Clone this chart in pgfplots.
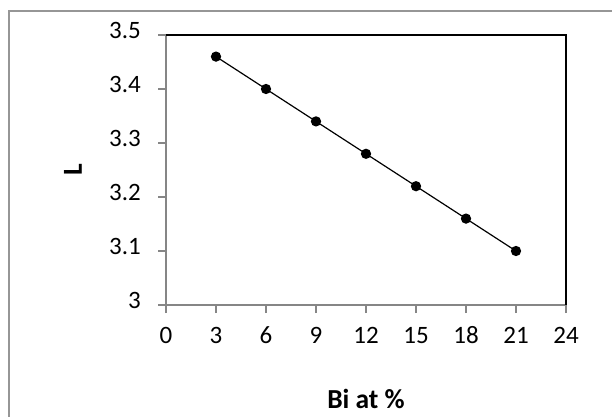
\documentclass[border=0pt]{standalone}
\usepackage{pgfplots}
\pgfplotsset{compat=1.18}
\usepackage{fontspec}
\setmainfont{Carlito}
\definecolor{axgray}{RGB}{134,134,134}
\definecolor{framegray}{RGB}{150,150,150}
\begin{document}
\begin{tikzpicture}[x=1pt,y=1pt]
\useasboundingbox (0,0) rectangle (612,416);
\begin{scope}
\clip (0,0) rectangle (612,416);
\draw[framegray, line width=2pt] (9,405) rectangle (640,-20);
\end{scope}
\begin{axis}[
  scale only axis,
  width=400pt, height=270pt,
  at={(166pt,111pt)}, anchor=south west,
  xmin=0, xmax=24, ymin=3, ymax=3.5,
  xtick={0,3,...,24},
  ytick={3,3.1,3.2,3.3,3.4,3.5},
  axis x line*=bottom, axis y line*=left,
  axis line style={axgray, line width=2pt, -},
  tick style={axgray, line width=1.5pt},
  tick align=outside,
  major tick length=8pt,
  /pgf/number format/assume math mode=true,
  yticklabel={\pgfmathprintnumber[fixed,precision=1]{\tick}},
  tick label style={font=\fontsize{25}{30}\selectfont, black, inner sep=0pt, text height=0.64em, text depth=0pt},
  xticklabel style={anchor=north, yshift=-24pt},
  yticklabel style={anchor=east, xshift=-17pt},
  xlabel={\textbf{Bi at \%}},
  ylabel={\textbf{L}},
  label style={font=\fontsize{27.5}{32}\selectfont},
  xlabel style={at={(0.5,0)}, anchor=center, yshift=-94pt},
  ylabel style={at={(0,0.5)}, anchor=center, rotate=0, yshift=93pt},
  clip=false,
]
\addplot[black, line width=1.2pt, mark=*, mark size=4.5pt, mark options={fill=black}]
  coordinates {(3,3.46) (6,3.40) (9,3.34) (12,3.28) (15,3.22) (18,3.16) (21,3.10)};
\draw[black, line width=2pt] (rel axis cs:0,1) -- (rel axis cs:1,1) -- (rel axis cs:1,0);
\end{axis}
\end{tikzpicture}
\end{document}
